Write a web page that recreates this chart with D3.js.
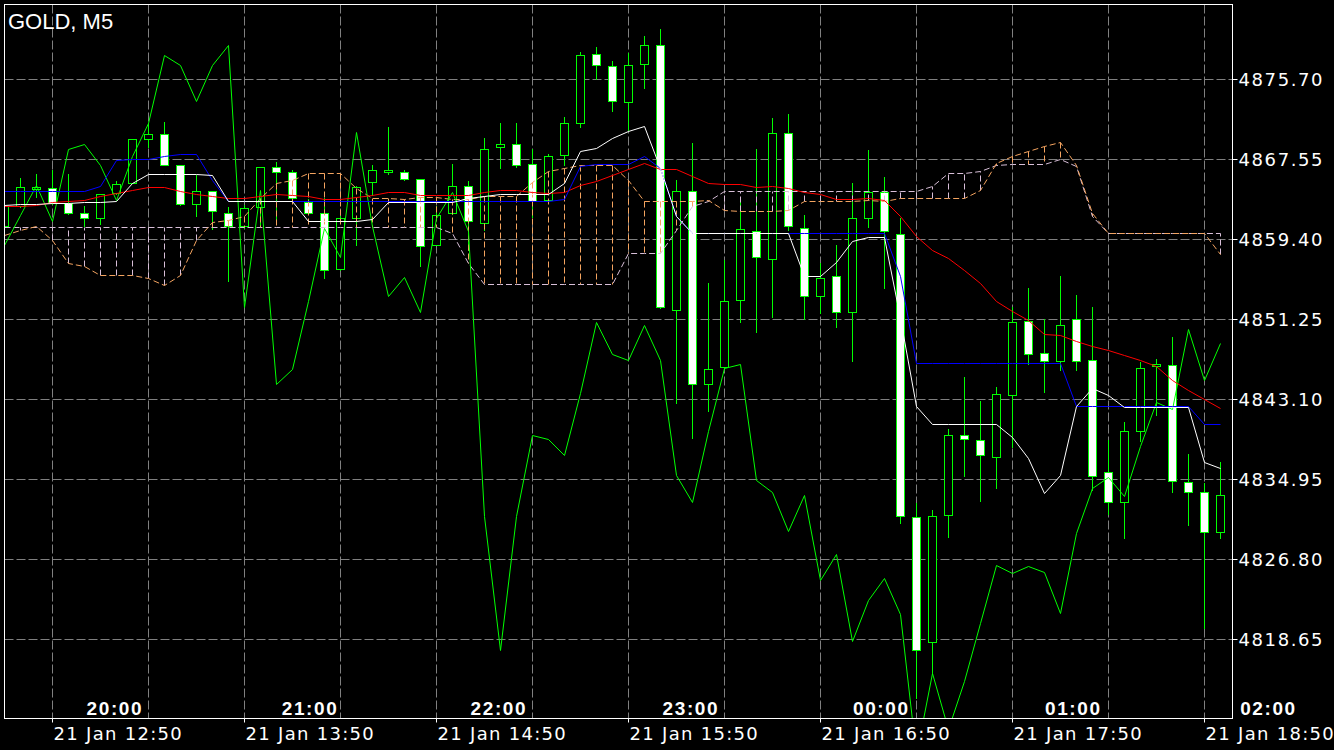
<!DOCTYPE html>
<html>
<head>
<meta charset="utf-8">
<script src="https://cdn.jsdelivr.net/npm/d3@7"></script>
<style>
body { margin:0; background:#000; }
svg { display:block; }
.title { font-family:"Liberation Sans", Arial, sans-serif; font-size:22px; fill:#fff; }
.price { font-family:"DejaVu Sans", sans-serif; font-size:18px; letter-spacing:1.6px; fill:#fff; }
.date { font-family:"DejaVu Sans", sans-serif; font-size:18px; letter-spacing:1.3px; fill:#fff; }
.hour { font-family:"Liberation Sans", Arial, sans-serif; font-size:19px; font-weight:bold; letter-spacing:1.6px; fill:#fff; }
</style>
</head>
<body>
<svg id="chart"></svg>
<script>
// GOLD M5 candles, 21 Jan 12:35 .. 18:55 (77 bars)
var opens = [4860.79,4862.83,4864.58,4864.60,4863.07,4862.05,4861.64,4864.09,4865.17,4869.59,
    4870.10,4866.94,4862.97,4864.35,4862.05,4860.79,4862.66,4866.74,4866.23,4863.23,
    4862.05,4856.35,4861.54,4865.21,4866.26,4866.23,4865.52,4858.89,4862.05,4864.90,
    4861.13,4868.78,4869.08,4867.07,4863.41,4867.96,4871.28,4878.28,4877.06,4873.42,
    4877.23,4879.20,4852.17,4864.39,4844.63,4846.42,4853.22,4860.22,4857.40,4870.20,
    4860.58,4853.63,4855.66,4851.97,4861.64,4864.19,4860.01,4831.08,4818.41,4831.29,
    4839.44,4838.93,4837.26,4843.54,4851.08,4847.79,4847.04,4851.25,4847.11,4835.67,
    4832.61,4839.91,4846.50,4846.60,4834.65,4833.63,4829.62];
var highs = [4863.00,4865.68,4866.06,4866.46,4866.06,4862.80,4863.99,4865.34,4869.59,4871.22,
    4871.32,4867.04,4865.95,4864.35,4862.72,4862.90,4866.74,4867.31,4866.53,4863.51,
    4863.58,4861.78,4864.83,4866.97,4870.84,4866.53,4865.52,4862.80,4867.07,4865.34,
    4869.75,4871.28,4871.28,4868.67,4868.16,4871.89,4878.51,4879.02,4877.60,4878.35,
    4880.14,4880.80,4865.44,4869.18,4854.98,4857.29,4863.48,4868.60,4871.79,4872.17,
    4861.88,4856.96,4858.89,4865.17,4868.50,4865.78,4861.54,4832.51,4831.83,4840.08,
    4845.41,4842.96,4844.39,4852.54,4854.41,4851.28,4855.66,4853.73,4852.54,4838.96,
    4840.82,4846.90,4847.18,4849.48,4837.53,4834.55,4836.75];
var lows = [4860.55,4862.69,4863.68,4863.00,4861.98,4860.76,4860.96,4864.02,4865.14,4868.84,
    4867.04,4862.87,4861.81,4860.52,4855.16,4860.55,4860.76,4861.37,4863.58,4862.08,
    4855.49,4856.28,4858.82,4863.92,4866.06,4865.44,4856.71,4858.82,4861.98,4858.31,
    4860.35,4866.64,4866.74,4861.67,4863.23,4867.04,4870.87,4875.73,4872.47,4870.54,
    4874.85,4852.40,4842.73,4839.19,4841.91,4846.29,4851.01,4849.99,4851.52,4860.35,
    4851.25,4851.90,4850.50,4847.04,4860.69,4854.41,4830.47,4812.68,4815.12,4829.11,
    4835.32,4832.77,4834.10,4838.21,4846.70,4843.88,4846.09,4846.09,4833.86,4831.42,
    4829.00,4838.86,4841.50,4833.69,4830.30,4819.80,4828.94];
var closes = [4862.80,4864.76,4864.78,4863.07,4862.05,4861.64,4863.99,4865.04,4869.59,4870.10,
    4867.04,4862.97,4864.39,4862.29,4860.76,4862.56,4866.74,4866.23,4863.58,4862.15,
    4856.28,4861.54,4864.70,4866.46,4866.46,4865.55,4858.75,4861.88,4864.90,4861.27,
    4868.57,4869.08,4866.97,4863.33,4867.89,4871.22,4878.18,4877.13,4873.46,4877.16,
    4879.20,4852.48,4864.39,4844.66,4846.16,4853.09,4860.52,4857.60,4870.26,4860.76,
    4853.63,4855.49,4851.97,4861.54,4864.19,4860.25,4831.22,4817.56,4831.22,4839.44,
    4839.03,4837.40,4843.71,4850.95,4847.72,4847.04,4850.67,4847.04,4835.32,4832.61,
    4839.87,4846.26,4846.70,4834.81,4833.63,4829.62,4833.35];

// indicator lines, one value per bar
var tenkan = [4862.90,4862.95,4863.00,4863.05,4863.10,4863.15,4863.20,4863.23,4865.10,4866.02,
    4866.04,4866.04,4866.04,4865.92,4863.23,4863.23,4863.23,4863.23,4863.23,4861.23,
    4861.23,4861.23,4861.23,4861.40,4863.16,4863.16,4863.16,4863.16,4863.16,4863.56,
    4863.77,4864.00,4864.00,4864.00,4864.00,4865.10,4868.40,4868.67,4869.69,4870.36,
    4870.87,4866.64,4861.76,4859.99,4859.99,4859.99,4859.99,4859.99,4859.99,4859.99,
    4855.67,4855.67,4857.04,4859.23,4859.60,4859.60,4851.31,4842.42,4840.59,4840.59,
    4840.59,4840.59,4840.59,4839.23,4837.12,4833.56,4835.39,4842.39,4844.21,4843.54,
    4842.33,4842.33,4842.33,4842.33,4842.33,4836.70,4836.10];
var kijun = [4864.32,4864.32,4864.32,4864.32,4864.32,4864.32,4864.76,4867.48,4867.55,4867.55,
    4867.82,4868.06,4868.06,4865.44,4863.23,4863.23,4863.23,4863.23,4863.23,4863.23,
    4863.23,4863.23,4863.23,4863.23,4863.23,4863.23,4863.23,4863.23,4863.23,4863.23,
    4863.23,4863.23,4863.23,4863.23,4863.23,4863.52,4866.83,4867.08,4867.08,4867.08,
    4867.82,4866.64,4861.76,4859.99,4859.99,4859.99,4859.99,4859.99,4859.99,4859.99,
    4859.99,4859.99,4859.99,4859.99,4859.99,4859.99,4855.63,4846.73,4846.73,4846.73,
    4846.73,4846.73,4846.73,4846.73,4846.73,4846.73,4846.73,4842.42,4842.42,4842.42,
    4842.42,4842.42,4842.42,4842.42,4842.42,4840.59,4840.59];
var maLine = [4862.72,4862.80,4862.90,4863.13,4863.23,4863.41,4863.81,4864.09,4864.35,4864.70,
    4864.70,4864.25,4863.99,4863.81,4863.58,4863.58,4863.81,4864.02,4863.84,4863.74,
    4863.51,4863.51,4863.68,4863.92,4864.15,4864.19,4863.92,4863.84,4863.92,4863.92,
    4864.15,4864.35,4864.42,4864.19,4864.09,4864.19,4864.93,4865.34,4865.95,4866.53,
    4867.14,4866.53,4866.53,4865.78,4865.11,4865.01,4865.01,4864.70,4864.83,4864.60,
    4864.19,4864.02,4863.51,4863.51,4863.58,4863.33,4861.70,4859.67,4858.31,4857.47,
    4856.28,4854.92,4853.05,4852.02,4851.11,4849.76,4849.65,4848.97,4848.46,4848.05,
    4847.62,4847.04,4846.50,4845.07,4844.05,4843.10,4842.19];
var spanA = [4859.84,4860.35,4860.69,4859.33,4856.96,4856.61,4855.77,4855.77,4855.77,4855.43,
    4854.68,4855.77,4859.33,4861.09,4861.37,4861.70,4863.58,4865.11,4865.44,4866.13,
    4866.13,4866.13,4864.60,4863.58,4863.58,4863.51,4863.68,4863.68,4863.51,4863.51,
    4863.74,4863.74,4863.81,4865.17,4866.29,4866.64,4866.97,4866.97,4866.97,4865.44,
    4863.23,4863.23,4863.23,4863.23,4863.41,4862.39,4862.21,4862.21,4862.21,4862.39,
    4863.23,4863.23,4863.23,4863.23,4863.41,4863.23,4863.58,4863.58,4863.58,4863.58,
    4863.58,4864.42,4867.14,4867.82,4868.33,4868.84,4869.24,4866.97,4862.05,4860.01,
    4860.01,4860.01,4860.01,4860.01,4860.01,4860.01,4857.91];
var spanB = [4860.62,4860.62,4860.62,4860.62,4860.62,4860.62,4860.62,4860.62,4860.62,4860.62,
    4860.62,4860.62,4860.62,4860.62,4860.62,4860.62,4860.62,4860.62,4860.62,4860.62,
    4860.62,4860.62,4860.62,4860.62,4860.62,4860.62,4860.62,4860.62,4860.01,4856.96,
    4854.85,4854.85,4854.85,4854.85,4854.85,4854.85,4854.85,4854.85,4854.85,4857.98,
    4857.98,4857.98,4860.35,4862.72,4863.23,4864.25,4864.25,4864.25,4864.25,4864.25,
    4864.25,4864.25,4864.25,4864.25,4864.25,4864.25,4864.25,4864.25,4864.76,4866.13,
    4866.13,4866.29,4866.97,4867.07,4867.07,4867.07,4867.55,4866.80,4861.70,4860.01,
    4860.01,4860.01,4860.01,4860.01,4860.01,4860.01,4860.01];
var chikou = [4858.75,4861.88,4864.90,4861.27,4868.57,4869.08,4866.97,4863.33,4867.89,4871.22,
    4878.18,4877.13,4873.46,4877.16,4879.20,4852.48,4864.39,4844.66,4846.16,4853.09,
    4860.52,4857.60,4870.26,4860.76,4853.63,4855.49,4851.97,4861.54,4864.19,4860.25,
    4831.22,4817.56,4831.22,4839.44,4839.03,4837.40,4843.71,4850.95,4847.72,4847.04,
    4850.67,4847.04,4835.32,4832.61,4839.87,4846.26,4846.70,4834.81,4833.63,4829.62,
    4833.35,4824.70,4827.31,4818.41,4822.66,4824.87,4821.23,4806.87,4815.19,4809.52,
    4814.34,4820.32,4826.22,4825.38,4826.12,4825.48,4821.30,4829.48,4834.04,4835.16,
    4833.18,4838.28,4842.83,4842.12,4850.23,4845.07,4848.81];

// axis labels
var priceTicks = [4875.70,4867.55,4859.40,4851.25,4843.10,4834.95,4826.80,4818.65];
var dateLabels = ["21 Jan 12:50","21 Jan 13:50","21 Jan 14:50","21 Jan 15:50","21 Jan 16:50","21 Jan 17:50","21 Jan 18:50"];
var dateLabelBars = [3,15,27,39,51,63,75];
var hourLabels = ["20:00","21:00","22:00","23:00","00:00","01:00","02:00"];
var hourLabelBars = [6.9,19.1,30.9,42.9,54.8,66.8,79.0];

var screen = {width:1334, height:750};
var plot = {left:4.5, top:4.5, right:1232.5, bottom:718.5};

var svg = d3.select("#chart")
    .attr("width",screen.width)
    .attr("height",screen.height);

svg.append("rect")
    .attr("width",screen.width)
    .attr("height",screen.height)
    .attr("fill","#000");

svg.append("defs")
    .append("clipPath")
    .attr("id","plotClip")
    .append("rect")
    .attr("x",plot.left+0.5)
    .attr("y",plot.top+0.5)
    .attr("width",plot.right-plot.left-1)
    .attr("height",plot.bottom-plot.top-1);

var xScale = d3.scaleLinear()
    .domain([0,opens.length-1])
    .range([4.5,1220.5]);

var yScale = d3.scaleLinear()
    .domain([4818.65,4875.70])
    .range([639.5,79.5]);

// snap to pixel centres so flat runs stay sharp
var py = function(v)
{
    return Math.round(yScale(v)-0.5)+0.5
}

var bars = d3.range(opens.length);

var drawGrid = function(g)
{
    var dash = "9,3";
    g.selectAll(".hgrid")
        .data(priceTicks)
        .enter()
        .append("line")
        .attr("x1",plot.left)
        .attr("x2",plot.right)
        .attr("y1",function(d){return yScale(d)})
        .attr("y2",function(d){return yScale(d)})
        .attr("stroke","#808080")
        .attr("stroke-dasharray",dash);

    // a vertical line every 6 bars (30 min)
    g.selectAll(".vgrid")
        .data(d3.range(3,opens.length,6))
        .enter()
        .append("line")
        .attr("x1",function(d){return xScale(d)})
        .attr("x2",function(d){return xScale(d)})
        .attr("y1",plot.top)
        .attr("y2",plot.bottom)
        .attr("stroke","#808080")
        .attr("stroke-dasharray",dash);
}

var drawCandles = function(g)
{
    var candles = g.selectAll(".candle")
        .data(bars)
        .enter()
        .append("g")
        .classed("candle",true);

    candles.append("line")
        .attr("x1",function(i){return xScale(i)})
        .attr("x2",function(i){return xScale(i)})
        .attr("y1",function(i){return Math.round(yScale(highs[i]))})
        .attr("y2",function(i){return Math.round(yScale(lows[i]))+1})
        .attr("stroke","#00ff00");

    candles.append("rect")
        .attr("x",function(i){return xScale(i)-4})
        .attr("width",8)
        .attr("y",function(i)
        {
            return Math.round(yScale(Math.max(opens[i],closes[i])))+0.5
        })
        .attr("height",function(i)
        {
            var h = Math.round(yScale(Math.min(opens[i],closes[i])))-Math.round(yScale(Math.max(opens[i],closes[i])));
            return Math.max(h,1)
        })
        .attr("fill",function(i){return closes[i]<opens[i] ? "#fff" : "#000"})
        .attr("stroke","#00ff00");
}

var lineGenerator = d3.line()
    .x(function(d,i){return xScale(i)})
    .y(function(d){return py(d)});

var drawCloud = function(g)
{
    // hatch between the two spans, coloured by the span on top
    g.selectAll(".hatch")
        .data(bars)
        .enter()
        .append("line")
        .attr("x1",function(i){return xScale(i)})
        .attr("x2",function(i){return xScale(i)})
        .attr("y1",function(i){return py(spanA[i])})
        .attr("y2",function(i){return py(spanB[i])})
        .attr("stroke",function(i){return spanA[i]>=spanB[i] ? "#f4a460" : "#d8bfd8"})
        .attr("stroke-dasharray","6,3");

    var spanLine = function(values,color)
    {
        g.append("path")
            .datum(values)
            .attr("d",lineGenerator)
            .attr("fill","none")
            .attr("stroke",color)
            .attr("stroke-dasharray","6,3");
    }
    spanLine(spanB,"#d8bfd8");
    spanLine(spanA,"#f4a460");
}

var drawLine = function(g,values,color)
{
    g.append("path")
        .datum(values)
        .attr("d",lineGenerator)
        .attr("fill","none")
        .attr("stroke",color)
        .attr("stroke-width",1);
}

var drawAxes = function()
{
    var axes = svg.append("g");

    axes.append("rect")
        .attr("x",plot.left)
        .attr("y",plot.top)
        .attr("width",plot.right-plot.left)
        .attr("height",plot.bottom-plot.top)
        .attr("fill","none")
        .attr("stroke","#fff");

    axes.selectAll(".ptick")
        .data(priceTicks)
        .enter()
        .append("line")
        .attr("x1",plot.right)
        .attr("x2",plot.right+5)
        .attr("y1",function(d){return yScale(d)})
        .attr("y2",function(d){return yScale(d)})
        .attr("stroke","#fff");

    axes.selectAll(".price")
        .data(priceTicks)
        .enter()
        .append("text")
        .classed("price",true)
        .attr("x",plot.right+6)
        .attr("y",function(d){return yScale(d)+6.5})
        .text(function(d){return d.toFixed(2)});

    axes.selectAll(".dtick")
        .data(dateLabelBars)
        .enter()
        .append("line")
        .attr("x1",function(d){return xScale(d)})
        .attr("x2",function(d){return xScale(d)})
        .attr("y1",plot.bottom)
        .attr("y2",plot.bottom+4)
        .attr("stroke","#fff");

    axes.selectAll(".date")
        .data(dateLabels)
        .enter()
        .append("text")
        .classed("date",true)
        .attr("x",function(d,i){return xScale(dateLabelBars[i])+1})
        .attr("y",740)
        .text(function(d){return d});

    axes.selectAll(".hour")
        .data(hourLabels)
        .enter()
        .append("text")
        .classed("hour",true)
        .attr("text-anchor","middle")
        .attr("x",function(d,i){return xScale(hourLabelBars[i])})
        .attr("y",715)
        .text(function(d){return d});

    axes.append("text")
        .classed("title",true)
        .attr("x",8)
        .attr("y",29)
        .text("GOLD, M5");
}

var chart = svg.append("g")
    .attr("clip-path","url(#plotClip)");

drawGrid(chart.append("g"));
drawCandles(chart.append("g"));
drawCloud(chart.append("g"));
drawLine(chart,chikou,"#00ff00");
drawLine(chart,maLine,"#ff0000");
drawLine(chart,kijun,"#0000ff");
drawLine(chart,tenkan,"#ffffff");
drawAxes();
</script>
</body>
</html>
